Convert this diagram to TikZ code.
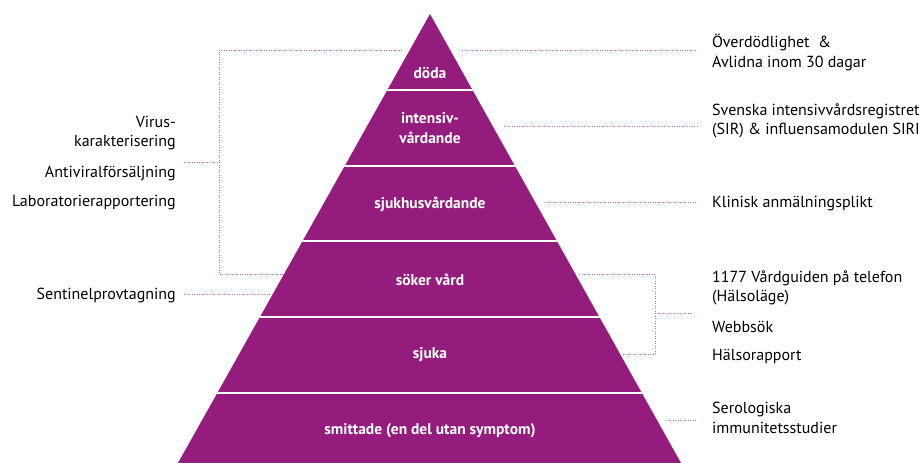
\documentclass[tikz,border=0pt]{standalone}
\usepackage{fontspec}
\setmainfont{PT Sans}
\usepackage{tikz}
\usetikzlibrary{calc}
\definecolor{pyrpurple}{RGB}{148,28,124}
\definecolor{dotpink}{RGB}{205,95,185}

\begin{document}
\begin{tikzpicture}[x=1pt,y=-1pt]
  \tikzstyle{lvl}=[text=white,font=\fontsize{15.5}{19.5}\selectfont\bfseries,align=center,inner sep=0pt]
  \tikzstyle{lbl}=[font=\fontsize{16}{19.5}\selectfont,inner sep=0pt]
  \tikzstyle{dots}=[dotpink,line width=0.9pt,dash pattern=on 0.9pt off 1.6pt]
  \useasboundingbox (0,0) rectangle (924,463);
  \coordinate (top) at (430,14);
  \coordinate (bl) at (178,463);
  \coordinate (br) at (681,463);
  \fill[pyrpurple] (top) -- (bl) -- (br) -- cycle;
  \begin{scope}
    \clip (top) -- (bl) -- (br) -- cycle;
    \foreach \y in {90,166,241,317,393}
      \draw[white,line width=2pt] (150,\y) -- (720,\y);
  \end{scope}
  \node[lvl] (doda) at (430,73) {döda};
  \node[lvl] (intensiv) at (430,128) {intensiv-\\vårdande};
  \node[lvl] (sjukhus) at (430,204) {sjukhusvårdande};
  \node[lvl] (soker) at (430,280) {söker vård};
  \node[lvl] (sjuka) at (430,355) {sjuka};
  \node[lvl] (smittade) at (430,431) {smittade (en del utan symptom)};
  \node[lbl,anchor=east,align=right] (virus) at (176,133) {Virus-\\karakterisering};
  \node[lbl,anchor=east] (antiviral) at (176,173.5) {Antiviralförsäljning};
  \node[lbl,anchor=east] (labb) at (176,202.5) {Laboratorierapportering};
  \node[lbl,anchor=east] (sentinel) at (176,295.5) {Sentinelprovtagning};
  \node[lbl,anchor=west,align=left] (overd) at (712,52.5) {Överdödlighet\ \ \&\\Avlidna inom 30 dagar};
  \node[lbl,anchor=west,align=left] (sir) at (712,121) {Svenska intensivvårdsregistret\\(SIR) \& influensamodulen SIRI};
  \node[lbl,anchor=west] (klinisk) at (712,203.5) {Klinisk anmälningsplikt};
  \node[lbl,anchor=west,align=left] (vardguiden) at (712,288) {1177 Vårdguiden på telefon\\(Hälsoläge)};
  \node[lbl,anchor=west] (webbsok) at (712,327) {Webbsök};
  \node[lbl,anchor=west] (halso) at (712,356.5) {Hälsorapport};
  \node[lbl,anchor=west,align=left] (sero) at (712,418) {Serologiska\\immunitetsstudier};
  \coordinate (lb-top) at (402,50);
  \coordinate (lb-tc) at (219,50);
  \coordinate (lb-mid) at (219,162);
  \coordinate (lb-bc) at (219,274);
  \coordinate (lb-bot) at (284,274);
  \coordinate (lb-stub) at (184,162);
  \coordinate (sent-l) at (184,294);
  \coordinate (sent-r) at (273,294);
  \coordinate (doda-r) at (462,50);
  \coordinate (overd-l) at (697,50);
  \coordinate (int-r) at (504,126);
  \coordinate (sir-l) at (697,126);
  \coordinate (sjh-r) at (545,202);
  \coordinate (klin-l) at (697,202);
  \coordinate (rb-top) at (579,274);
  \coordinate (rb-tc) at (655,274);
  \coordinate (rb-mid) at (655,313);
  \coordinate (rb-bc) at (655,354);
  \coordinate (rb-bot) at (623,354);
  \coordinate (rb-stub) at (692,313);
  \coordinate (smi-r) at (665,420);
  \coordinate (sero-l) at (697,420);
  \draw[dots] (lb-top) -- (lb-tc) -- (lb-bc) -- (lb-bot);
  \draw[dots] (lb-stub) -- (lb-mid);
  \draw[dots] (sent-l) -- (sent-r);
  \draw[dots] (doda-r) -- (overd-l);
  \draw[dots] (int-r) -- (sir-l);
  \draw[dots] (sjh-r) -- (klin-l);
  \draw[dots] (rb-top) -- (rb-tc) -- (rb-bc) -- (rb-bot);
  \draw[dots] (rb-mid) -- (rb-stub);
  \draw[dots] (smi-r) -- (sero-l);
\end{tikzpicture}
\end{document}
